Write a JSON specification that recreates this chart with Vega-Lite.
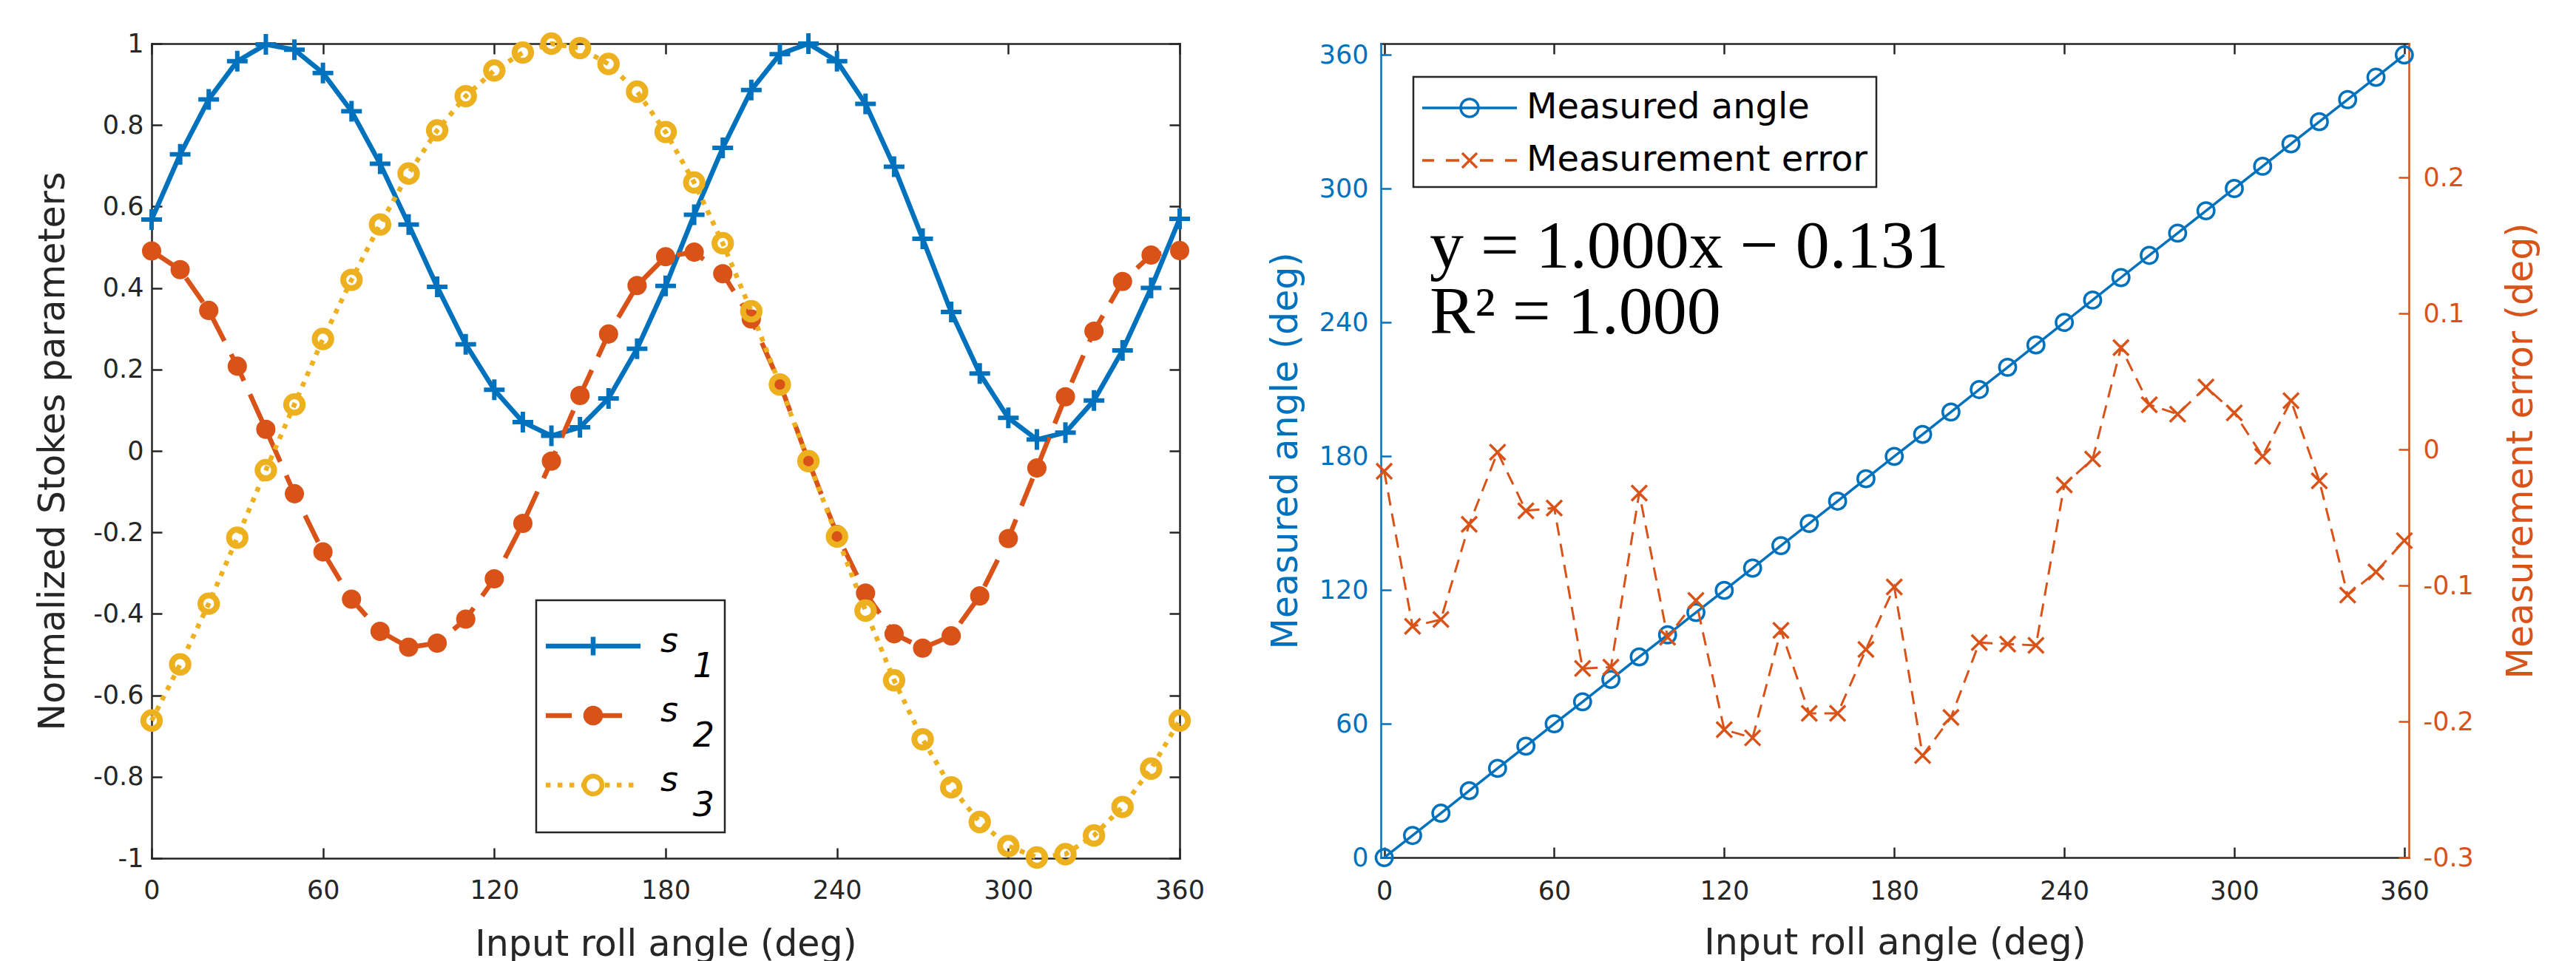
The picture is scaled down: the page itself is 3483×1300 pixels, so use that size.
{
  "$schema": "https://vega.github.io/schema/vega-lite/v6.json",
  "background": "white",
  "padding": {"left": 46, "top": 31, "right": 5, "bottom": 2},
  "bounds": "flush",
  "spacing": 272,
  "resolve": {"scale": {"color": "independent"}},
  "config": {
    "view": {"stroke": null},
    "font": "DejaVu Sans",
    "axis": {
      "domainColor": "#262626", "domainWidth": 2.5, "domainCap": "square",
      "tickColor": "#262626", "tickWidth": 2.5, "tickSize": -14,
      "labelFont": "DejaVu Sans", "labelFontSize": 35, "labelColor": "#262626",
      "titleFont": "DejaVu Sans", "titleFontSize": 49, "titleFontWeight": "normal", "titleColor": "#262626",
      "grid": false, "labelFlush": false, "labelOverlap": false, "labelBound": false
    }
  },
  "hconcat": [
    {
      "width": 1390,
      "height": 1102,
      "data": {"values": [
        {"a":0,"s":"s1","v":0.568},{"a":10,"s":"s1","v":0.728},{"a":20,"s":"s1","v":0.863},{"a":30,"s":"s1","v":0.957},{"a":40,"s":"s1","v":0.998},{"a":50,"s":"s1","v":0.985},{"a":60,"s":"s1","v":0.928},{"a":70,"s":"s1","v":0.834},{"a":80,"s":"s1","v":0.705},{"a":90,"s":"s1","v":0.556},{"a":100,"s":"s1","v":0.403},{"a":110,"s":"s1","v":0.262},{"a":120,"s":"s1","v":0.150},{"a":130,"s":"s1","v":0.071},{"a":140,"s":"s1","v":0.037},{"a":150,"s":"s1","v":0.058},{"a":160,"s":"s1","v":0.129},{"a":170,"s":"s1","v":0.251},{"a":180,"s":"s1","v":0.405},{"a":190,"s":"s1","v":0.580},{"a":200,"s":"s1","v":0.744},{"a":210,"s":"s1","v":0.886},{"a":220,"s":"s1","v":0.974},{"a":230,"s":"s1","v":1.0},{"a":240,"s":"s1","v":0.957},{"a":250,"s":"s1","v":0.852},{"a":260,"s":"s1","v":0.698},{"a":270,"s":"s1","v":0.521},{"a":280,"s":"s1","v":0.341},{"a":290,"s":"s1","v":0.190},{"a":300,"s":"s1","v":0.081},{"a":310,"s":"s1","v":0.028},{"a":320,"s":"s1","v":0.045},{"a":330,"s":"s1","v":0.124},{"a":340,"s":"s1","v":0.247},{"a":350,"s":"s1","v":0.400},{"a":360,"s":"s1","v":0.570},
        {"a":0,"s":"s2","v":0.491},{"a":10,"s":"s2","v":0.445},{"a":20,"s":"s2","v":0.345},{"a":30,"s":"s2","v":0.208},{"a":40,"s":"s2","v":0.053},{"a":50,"s":"s2","v":-0.105},{"a":60,"s":"s2","v":-0.248},{"a":70,"s":"s2","v":-0.364},{"a":80,"s":"s2","v":-0.443},{"a":90,"s":"s2","v":-0.482},{"a":100,"s":"s2","v":-0.472},{"a":110,"s":"s2","v":-0.413},{"a":120,"s":"s2","v":-0.314},{"a":130,"s":"s2","v":-0.178},{"a":140,"s":"s2","v":-0.025},{"a":150,"s":"s2","v":0.136},{"a":160,"s":"s2","v":0.287},{"a":170,"s":"s2","v":0.406},{"a":180,"s":"s2","v":0.477},{"a":190,"s":"s2","v":0.488},{"a":200,"s":"s2","v":0.435},{"a":210,"s":"s2","v":0.324},{"a":220,"s":"s2","v":0.166},{"a":230,"s":"s2","v":-0.025},{"a":240,"s":"s2","v":-0.205},{"a":250,"s":"s2","v":-0.349},{"a":260,"s":"s2","v":-0.449},{"a":270,"s":"s2","v":-0.484},{"a":280,"s":"s2","v":-0.454},{"a":290,"s":"s2","v":-0.356},{"a":300,"s":"s2","v":-0.215},{"a":310,"s":"s2","v":-0.042},{"a":320,"s":"s2","v":0.133},{"a":330,"s":"s2","v":0.294},{"a":340,"s":"s2","v":0.416},{"a":350,"s":"s2","v":0.481},{"a":360,"s":"s2","v":0.492},
        {"a":0,"s":"s3","v":-0.662},{"a":10,"s":"s3","v":-0.524},{"a":20,"s":"s3","v":-0.375},{"a":30,"s":"s3","v":-0.213},{"a":40,"s":"s3","v":-0.047},{"a":50,"s":"s3","v":0.114},{"a":60,"s":"s3","v":0.275},{"a":70,"s":"s3","v":0.420},{"a":80,"s":"s3","v":0.556},{"a":90,"s":"s3","v":0.681},{"a":100,"s":"s3","v":0.787},{"a":110,"s":"s3","v":0.871},{"a":120,"s":"s3","v":0.934},{"a":130,"s":"s3","v":0.978},{"a":140,"s":"s3","v":1.0},{"a":150,"s":"s3","v":0.989},{"a":160,"s":"s3","v":0.950},{"a":170,"s":"s3","v":0.882},{"a":180,"s":"s3","v":0.783},{"a":190,"s":"s3","v":0.659},{"a":200,"s":"s3","v":0.510},{"a":210,"s":"s3","v":0.343},{"a":220,"s":"s3","v":0.163},{"a":230,"s":"s3","v":-0.025},{"a":240,"s":"s3","v":-0.210},{"a":250,"s":"s3","v":-0.392},{"a":260,"s":"s3","v":-0.563},{"a":270,"s":"s3","v":-0.708},{"a":280,"s":"s3","v":-0.826},{"a":290,"s":"s3","v":-0.911},{"a":300,"s":"s3","v":-0.970},{"a":310,"s":"s3","v":-0.998},{"a":320,"s":"s3","v":-0.990},{"a":330,"s":"s3","v":-0.944},{"a":340,"s":"s3","v":-0.874},{"a":350,"s":"s3","v":-0.780},{"a":360,"s":"s3","v":-0.662}
      ]},
      "layer": [
        {
          "mark": {"type": "line", "strokeWidth": 6.5},
          "encoding": {
            "x": {"field": "a", "type": "quantitative",
              "scale": {"domain": [0, 360], "nice": false, "zero": false},
              "axis": {"orient": "bottom", "values": [0, 60, 120, 180, 240, 300, 360], "title": "Input roll angle (deg)",
                "labelPadding": 40, "titleY": 131, "titleBaseline": "alphabetic", "labelExpr": "'' + datum.value"}},
            "y": {"field": "v", "type": "quantitative",
              "scale": {"domain": [-1, 1], "nice": false, "zero": false},
              "axis": {"orient": "left", "values": [-1, -0.8, -0.6, -0.4, -0.2, 0, 0.2, 0.4, 0.6, 0.8, 1], "title": "Normalized Stokes parameters",
                "labelPadding": 25, "titleX": -119, "titleAngle": 270, "titleBaseline": "alphabetic", "labelExpr": "'' + datum.value"}},
            "color": {"field": "s", "type": "nominal",
              "scale": {"domain": ["s1", "s2", "s3"], "range": ["#0072BD", "#D95319", "#EDB120"]},
              "legend": {
                "orient": "none", "legendX": 520, "legendY": 753, "direction": "vertical",
                "title": " ", "titleFontSize": 1, "titlePadding": 25,
                "fillColor": "#FFFFFF", "strokeColor": "#262626", "padding": 13,
                "symbolSize": 4, "symbolStrokeWidth": 6.5,
                "labelFont": "DejaVu Sans", "labelFontSize": 46, "labelFontStyle": "italic", "labelColor": "#000000",
                "labelOffset": 109, "labelLimit": 0, "rowPadding": 14,
                "labelExpr": "['s', '\u200b\u00a0\u00a0\u00a0' + substring(datum.label, 1)]",
                "encode": {
                  "symbols": {"update": {
                    "shape": {"signal": "datum.value === 's1' ? 'M-23,0H105M41,-12.5V12.5' : datum.value === 's2' ? 'M-23,0H12M29,0H80M51,0A10,10 0 1 1 31,0A10,10 0 1 1 51,0' : 'M-23,0h6.5M-7,0h6.5M9,0h6.5M25,0h6.5M57,0h6.5M73,0h6.5M89,0h6.5M53,0A12,12 0 1 1 29,0A12,12 0 1 1 53,0'"},
                    "fill": {"signal": "datum.value === 's2' ? '#D95319' : 'transparent'"},
                    "strokeDash": {"value": [1, 0]},
                    "opacity": {"value": 1}
                  }},
                  "labels": {"update": {"dy": {"value": -6}, "lineHeight": {"value": 34}}},
                  "legend": {"update": {"strokeWidth": {"value": 2.5}}}
                }
              }},
            "strokeDash": {"field": "s", "type": "nominal",
              "scale": {"domain": ["s1", "s2", "s3"], "range": [[1, 0], [40, 20], [6.5, 9]]},
              "legend": null}
          }
        },
        {
          "transform": [{"filter": "datum.s === 's1'"}],
          "mark": {"type": "point", "shape": "M-1,0H1M0,-1V1", "size": 784, "filled": false, "strokeWidth": 6, "color": "#0072BD", "opacity": 1},
          "encoding": {
            "x": {"field": "a", "type": "quantitative", "scale": {"domain": [0, 360], "nice": false, "zero": false},
              "axis": {"orient": "top", "values": [0, 60, 120, 180, 240, 300, 360], "labels": false, "title": null}},
            "y": {"field": "v", "type": "quantitative", "scale": {"domain": [-1, 1], "nice": false, "zero": false},
              "axis": {"orient": "right", "values": [-1, -0.8, -0.6, -0.4, -0.2, 0, 0.2, 0.4, 0.6, 0.8, 1], "labels": false, "title": null}}
          }
        },
        {
          "transform": [{"filter": "datum.s === 's2'"}],
          "mark": {"type": "point", "shape": "circle", "size": 680, "filled": true, "strokeWidth": 0, "color": "#D95319", "opacity": 1},
          "encoding": {
            "x": {"field": "a", "type": "quantitative", "scale": {"domain": [0, 360], "nice": false, "zero": false}, "axis": null},
            "y": {"field": "v", "type": "quantitative", "scale": {"domain": [-1, 1], "nice": false, "zero": false}, "axis": null}
          }
        },
        {
          "transform": [{"filter": "datum.s === 's3'"}],
          "mark": {"type": "point", "shape": "circle", "size": 500, "filled": false, "strokeWidth": 8, "color": "#EDB120", "opacity": 1},
          "encoding": {
            "x": {"field": "a", "type": "quantitative", "scale": {"domain": [0, 360], "nice": false, "zero": false}, "axis": null},
            "y": {"field": "v", "type": "quantitative", "scale": {"domain": [-1, 1], "nice": false, "zero": false}, "axis": null}
          }
        }
      ],
      "resolve": {"axis": {"x": "independent", "y": "independent"}}
    },
    {
      "width": 1390,
      "height": 1101,
      "data": {"values": [
        {"a":0,"m":-0.016,"e":-0.016},{"a":10,"m":9.870,"e":-0.130},{"a":20,"m":19.875,"e":-0.125},{"a":30,"m":29.945,"e":-0.055},{"a":40,"m":39.998,"e":-0.002},{"a":50,"m":49.955,"e":-0.045},{"a":60,"m":59.957,"e":-0.043},{"a":70,"m":69.839,"e":-0.161},{"a":80,"m":79.840,"e":-0.160},{"a":90,"m":89.968,"e":-0.032},{"a":100,"m":99.862,"e":-0.138},{"a":110,"m":109.889,"e":-0.111},{"a":120,"m":119.794,"e":-0.206},{"a":130,"m":129.788,"e":-0.212},{"a":140,"m":139.867,"e":-0.133},{"a":150,"m":149.806,"e":-0.194},{"a":160,"m":159.806,"e":-0.194},{"a":170,"m":169.853,"e":-0.147},{"a":180,"m":179.899,"e":-0.101},{"a":190,"m":189.775,"e":-0.225},{"a":200,"m":199.803,"e":-0.197},{"a":210,"m":209.858,"e":-0.142},{"a":220,"m":219.857,"e":-0.143},{"a":230,"m":229.856,"e":-0.144},{"a":240,"m":239.974,"e":-0.026},{"a":250,"m":249.993,"e":-0.007},{"a":260,"m":260.075,"e":0.075},{"a":270,"m":270.033,"e":0.033},{"a":280,"m":280.026,"e":0.026},{"a":290,"m":290.046,"e":0.046},{"a":300,"m":300.027,"e":0.027},{"a":310,"m":309.995,"e":-0.005},{"a":320,"m":320.036,"e":0.036},{"a":330,"m":329.977,"e":-0.023},{"a":340,"m":339.893,"e":-0.107},{"a":350,"m":349.910,"e":-0.090},{"a":360,"m":359.933,"e":-0.067}
      ]},
      "layer": [
        {
          "mark": {"type": "line", "strokeWidth": 3.5},
          "encoding": {
            "x": {"field": "a", "type": "quantitative",
              "scale": {"domain": [-1.2, 361.6], "nice": false, "zero": false},
              "axis": {"orient": "bottom", "values": [0, 60, 120, 180, 240, 300, 360], "title": "Input roll angle (deg)",
                "labelPadding": 42, "titleY": 130, "titleBaseline": "alphabetic", "labelExpr": "'' + datum.value"}},
            "y": {"field": "m", "type": "quantitative",
              "scale": {"domain": [0, 365], "nice": false, "zero": false},
              "axis": {"orient": "left", "values": [0, 60, 120, 180, 240, 300, 360], "title": "Measured angle (deg)",
                "labelPadding": 31, "titleX": -114, "titleAngle": 270, "titleBaseline": "alphabetic", "labelExpr": "'' + datum.value",
                "domainColor": "#0072BD", "tickColor": "#0072BD", "labelColor": "#0072BD", "titleColor": "#0072BD"}},
            "color": {"datum": "Measured angle", "type": "nominal",
              "scale": {"domain": ["Measured angle", "Measurement error"], "range": ["#0072BD", "#D95319"]},
              "legend": {
                "orient": "none", "legendX": 44, "legendY": 45, "direction": "vertical",
                "title": " ", "titleFontSize": 1, "titlePadding": 5,
                "fillColor": "#FFFFFF", "strokeColor": "#262626", "padding": 12,
                "symbolSize": 4, "symbolStrokeWidth": 3.5,
                "labelFont": "DejaVu Sans", "labelFontSize": 48, "labelColor": "#000000",
                "labelOffset": 93, "labelLimit": 0, "rowPadding": 23,
                "encode": {
                  "symbols": {"update": {
                    "shape": {"signal": "datum.value === 'Measured angle' ? 'M-24,0H104M52,0A12,12 0 1 1 28,0A12,12 0 1 1 52,0' : 'M-24,0H-8M8,0H26M54,0H72M88,0H104M30,-10L50,10M30,10L50,-10'"},
                    "fill": {"value": "transparent"},
                    "strokeDash": {"value": [1, 0]},
                    "opacity": {"value": 1}
                  }},
                  "legend": {"update": {"strokeWidth": {"value": 2.5}}}
                }
              }}
          }
        },
        {
          "mark": {"type": "point", "shape": "circle", "size": 500, "filled": false, "strokeWidth": 3.5, "color": "#0072BD", "opacity": 1},
          "encoding": {
            "x": {"field": "a", "type": "quantitative", "scale": {"domain": [-1.2, 361.6], "nice": false, "zero": false}, "axis": null},
            "y": {"field": "m", "type": "quantitative", "scale": {"domain": [0, 365], "nice": false, "zero": false}, "axis": null}
          }
        },
        {
          "data": {"values": [{"eq": "y = 1.000x − 0.131"}]},
          "mark": {"type": "text", "font": "Liberation Serif", "fontSize": 92, "align": "left", "baseline": "alphabetic", "color": "#000000"},
          "encoding": {
            "x": {"datum": 16, "type": "quantitative", "scale": {"domain": [-1.2, 361.6], "nice": false, "zero": false}, "axis": null},
            "y": {"datum": 264.5, "type": "quantitative", "scale": {"domain": [0, 365], "nice": false, "zero": false}, "axis": null},
            "text": {"field": "eq"}
          }
        },
        {
          "data": {"values": [{"eq": "R² = 1.000"}]},
          "mark": {"type": "text", "font": "Liberation Serif", "fontSize": 92, "align": "left", "baseline": "alphabetic", "color": "#000000"},
          "encoding": {
            "x": {"datum": 16, "type": "quantitative", "scale": {"domain": [-1.2, 361.6], "nice": false, "zero": false}, "axis": null},
            "y": {"datum": 235, "type": "quantitative", "scale": {"domain": [0, 365], "nice": false, "zero": false}, "axis": null},
            "text": {"field": "eq"}
          }
        },
        {
          "mark": {"type": "line", "strokeWidth": 3, "strokeDash": [18, 11]},
          "encoding": {
            "x": {"field": "a", "type": "quantitative", "scale": {"domain": [-1.2, 361.6], "nice": false, "zero": false},
              "axis": {"orient": "top", "values": [0, 60, 120, 180, 240, 300, 360], "labels": false, "title": null}},
            "y": {"field": "e", "type": "quantitative",
              "scale": {"domain": [-0.3, 0.2985], "nice": false, "zero": false},
              "axis": {"orient": "right", "values": [-0.3, -0.2, -0.1, 0, 0.1, 0.2], "title": "Measurement error (deg)",
                "labelPadding": 33, "titleX": 166, "titleAngle": 270, "titleBaseline": "alphabetic", "labelExpr": "'' + datum.value",
                "domainColor": "#D95319", "tickColor": "#D95319", "labelColor": "#D95319", "titleColor": "#D95319"}},
            "color": {"datum": "Measurement error", "type": "nominal"}
          }
        },
        {
          "mark": {"type": "point", "shape": "M-1,-1L1,1M-1,1L1,-1", "size": 441, "filled": false, "strokeWidth": 3.5, "color": "#D95319", "opacity": 1},
          "encoding": {
            "x": {"field": "a", "type": "quantitative", "scale": {"domain": [-1.2, 361.6], "nice": false, "zero": false}, "axis": null},
            "y": {"field": "e", "type": "quantitative", "scale": {"domain": [-0.3, 0.2985], "nice": false, "zero": false}, "axis": null}
          }
        }
      ],
      "resolve": {"scale": {"y": "independent"}, "axis": {"x": "independent", "y": "independent"}}
    }
  ]
}
